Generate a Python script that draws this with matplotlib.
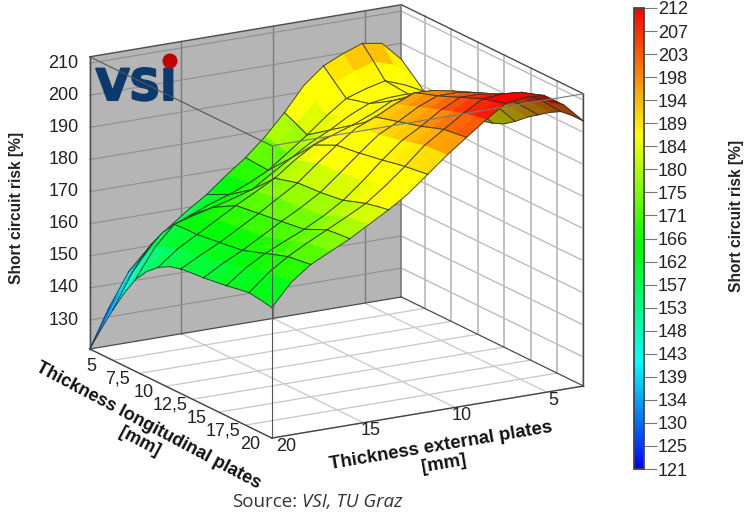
import numpy as np
import matplotlib
matplotlib.use("Agg")
import matplotlib.pyplot as plt
import matplotlib.patheffects as pe
from matplotlib.colors import LinearSegmentedColormap, Normalize
from matplotlib.cm import ScalarMappable
from matplotlib.patches import Ellipse
from mpl_toolkits.mplot3d import proj3d

plt.rcParams['font.family'] = ['Liberation Sans', 'DejaVu Sans']

# ---------- data ----------
x_nodes = [20, 18.94, 17.88, 16.81, 15.75, 14.69, 13.63, 12.56, 11.5, 10.44, 9.38, 8.31, 7.25, 6.19, 5.13, 4.06, 3]
y_nodes = [20, 18.93, 17.85, 16.78, 15.7, 14.63, 13.55, 12.48, 11.4, 10.33, 9.25, 8.18, 7.1, 6.03, 4.95, 3.88, 2.8]
z_rows = [
    [161.6,168.5,173,176,179,182.5,186,190,195,200,204.5,209,213,214,213.5,209.5,203.5],
    [162.3,168.2,172.5,175.7,178.7,181.9,185.3,189.5,194.5,199.8,204,208.3,212,212.8,212.2,208.5,203.5],
    [162.8,168,172,175.3,178.3,181.3,184.5,189,194,199.5,203.5,207.5,211,211.5,211,207.5,203],
    [162.2,167,170.8,173.8,176.7,179.8,183.3,188,193.3,198.5,202.3,206.3,209.5,209.8,209,205.3,201],
    [161.5,166,169.5,172.3,175,178.2,182,187,192.5,197.5,201,205,208,208,207,203,198.5],
    [161,165,168.3,171.4,174.5,177.8,181.5,186.5,191.9,196.8,200,203.8,206.5,206.5,205.5,201,196],
    [160.5,164,167,170.5,174,177.3,181,186,191.2,196,199,202.5,205,205,204,199,193],
    [160.2,163.5,166.5,170,173.5,177,180.8,185.8,190.7,195.3,198,201.3,203.8,203.6,202.5,197.3,190.5],
    [159.8,163,166,169.5,173,176.8,180.5,185.5,190.2,194.5,197,200,202.5,202.2,201,195.5,189],
    [158.8,162.3,165.5,169,172.5,176,179.5,184.3,188.5,191.3,193.5,196.3,199,199.1,198.3,193.5,188],
    [156.8,161.5,165,168.5,172,175.2,178.5,183,186.8,189,191,193.5,196.5,197,196.6,192,186.5],
    [153.8,160.3,165,167.5,170,172.5,175,179.3,183,186,188.5,191.5,194.3,195,194.9,191,186],
    [149.5,158.5,164.7,166.5,168,169.7,171.5,175.5,179.3,183,186,189.5,192.2,193,193.2,190,186],
    [143.5,153.5,160.5,163,165,167,169,172.3,175.7,179.8,183.5,187.8,191.3,192.7,193.5,190.8,187],
    [136.5,147,155,159,162,164.5,166.5,169,172,176.5,181,186,190.3,192.3,193.8,191.5,188.5],
    [129,140,149,154,158.3,161.8,164.8,168.5,172.2,177.2,182.8,188.5,193.6,196,198,196,191.8],
    [121,133,143,149,154.5,159,163,168,172.5,178,184.5,192,197,199.8,202,201,195],
]
x_ticks = [20, 15, 10, 5]
y_ticks = [5, 7.5, 10, 12.5, 15, 17.5, 20]
y_tick_labels = ['5', '7,5', '10', '12,5', '15', '17,5', '20']
z_ticks = [130, 140, 150, 160, 170, 180, 190, 200, 210]
bar_labels = [121, 125, 130, 134, 139, 143, 148, 153, 157, 162, 166, 171, 175, 180, 184, 189, 194, 198, 203, 207, 212]

x_label = "Thickness external plates\n[mm]"
y_label = "Thickness longitudinal plates\n[mm]"
z_label = "Short circuit risk [%]"

X_MIN, X_MAX = 3.0, 20.0
Y_MIN, Y_MAX = 2.8, 20.0
Z_MIN, Z_MAX = 121.0, 212.0

W, H = 747, 513
fig = plt.figure(figsize=(W / 100, H / 100), dpi=100, facecolor='white')


def fx(px):
    return px / W


def fy(py):
    return 1 - py / H


S = 600
ax = fig.add_axes([28.5 / W, -16.5 / H, S / W, S / H], projection='3d',
                  proj_type='ortho', computed_zorder=False)
ax.view_init(elev=16.6, azim=59.7)
ax.set_box_aspect((361, 361, 305), zoom=0.962)
ax.set_xlim(X_MIN, X_MAX)
ax.set_ylim(Y_MIN, Y_MAX)
ax.set_zlim(Z_MIN, Z_MAX)
ax.set_axis_off()
ax.patch.set_alpha(0)
ax.grid(False)

# colour scales
bar_cmap = LinearSegmentedColormap.from_list(
    'bar', [(0, '#0000ff'), (0.23, '#00ffff'), (0.484, '#00ff00'), (0.725, '#ffff00'), (1, '#ff0000')])
surf_cmap = LinearSegmentedColormap.from_list(
    'surf', [(0, '#0000ff'), (0.23, '#00ffff'), (0.51, '#00ff00'), (0.725, '#ffff00'),
             (0.81, '#ffff00'), (0.91, '#ff8c00'), (1, '#ff0000')])
norm = Normalize(Z_MIN, Z_MAX)

# grey wall at y = Y_MIN
wx, wz = np.meshgrid([X_MIN, X_MAX], [Z_MIN, Z_MAX])
ax.plot_surface(wx, np.full_like(wx, Y_MIN), wz, color='#b5b5b5', shade=False, linewidth=0, zorder=1)

# wall and floor grids
for xv in x_ticks:
    ax.plot([xv, xv], [Y_MIN, Y_MIN], [Z_MIN, Z_MAX], color='#7c7c7c', lw=1.0, zorder=2)
    ax.plot([xv, xv], [Y_MIN, Y_MAX], [Z_MIN, Z_MIN], color='#c8c8c8', lw=0.9, zorder=2)
for zv in z_ticks:
    ax.plot([X_MAX, X_MIN], [Y_MIN, Y_MIN], [zv, zv], color='#8e8e8e', lw=0.8, zorder=2)
    ax.plot([X_MIN, X_MIN], [Y_MIN, Y_MAX], [zv, zv], color='#bdbdbd', lw=1.0, zorder=2)
for yv in y_ticks:
    ax.plot([X_MIN, X_MIN], [yv, yv], [Z_MIN, Z_MAX], color='#bdbdbd', lw=1.3, zorder=2)
    ax.plot([X_MIN, X_MAX], [yv, yv], [Z_MIN, Z_MIN], color='#c8c8c8', lw=0.9, zorder=2)

# box edges behind the surface
edge = '#4a4a4a'
ax.plot([X_MAX, X_MIN], [Y_MIN, Y_MIN], [Z_MAX, Z_MAX], color=edge, lw=1.0, zorder=3)
ax.plot([X_MIN, X_MIN], [Y_MIN, Y_MAX], [Z_MAX, Z_MAX], color=edge, lw=1.0, zorder=3)
ax.plot([X_MIN, X_MIN], [Y_MIN, Y_MIN], [Z_MIN, Z_MAX], color='#777777', lw=1.1, zorder=3)
ax.plot([X_MAX, X_MIN], [Y_MIN, Y_MIN], [Z_MIN, Z_MIN], color=edge, lw=0.9, zorder=3)
ax.plot([X_MIN, X_MIN], [Y_MIN, Y_MAX], [Z_MIN, Z_MIN], color=edge, lw=0.9, zorder=3)
ax.plot([X_MAX, X_MAX], [Y_MIN, Y_MIN], [Z_MIN, Z_MAX], color=edge, lw=1.0, zorder=3)
ax.plot([X_MIN, X_MIN], [Y_MAX, Y_MAX], [Z_MIN, Z_MAX], color=edge, lw=1.0, zorder=3)

# logo
ax.text2D(fx(96), fy(100), "VSI", transform=fig.transFigure, family='DejaVu Sans', fontweight='bold',
          fontsize=31, color='#0c3a6e', ha='left', va='baseline', zorder=4,
          path_effects=[pe.withStroke(linewidth=1.5, foreground='#0c3a6e')])
fig.add_artist(Ellipse((fx(170), fy(61)), 15 / W, 15 / H, transform=fig.transFigure,
                       facecolor='#c00000', edgecolor='none'))

# surface, painted cell by cell from far to near
XG, YG = np.meshgrid(np.array(x_nodes), np.array(y_nodes))
ZG = np.array(z_rows)
M = ax.get_proj()
sx, sy, _ = proj3d.proj_transform(XG.ravel(), YG.ravel(), ZG.ravel(), M)
sx = np.reshape(sx, XG.shape)
sy = np.reshape(sy, XG.shape)
rgba = np.zeros((16, 16, 4))
for i in range(16):
    for j in range(16):
        zm = ZG[i:i + 2, j:j + 2].mean()
        c = np.array(surf_cmap(norm(zm)))
        ax1, ay1 = sx[i, j + 1] - sx[i, j], sy[i, j + 1] - sy[i, j]
        bx1, by1 = sx[i + 1, j] - sx[i, j], sy[i + 1, j] - sy[i, j]
        if ax1 * by1 - ay1 * bx1 < 0:
            c[:3] *= 0.62
        rgba[i, j] = c

order = 10
for i in range(14, -1, -2):
    for j in range(14, -1, -2):
        xc, yc, zc = XG[i:i + 3, j:j + 3], YG[i:i + 3, j:j + 3], ZG[i:i + 3, j:j + 3]
        ax.plot_surface(xc, yc, zc, facecolors=rgba[i:i + 2, j:j + 2], shade=False,
                        rstride=1, cstride=1, linewidth=0.4, zorder=order)
        order += 1
        for r in (0, 2):
            ax.plot(xc[r, :], yc[r, :], zc[r, :], color='#2c2c2c', lw=0.7, alpha=0.85, zorder=order)
        for c_ in (0, 2):
            ax.plot(xc[:, c_], yc[:, c_], zc[:, c_], color='#2c2c2c', lw=0.7, alpha=0.85, zorder=order)
        order += 1

# box edges in front of the surface
ax.plot([X_MAX, X_MAX], [Y_MAX, Y_MAX], [Z_MIN, Z_MAX], color='#555555', lw=0.8, zorder=600)
ax.plot([X_MAX, X_MAX], [Y_MIN, Y_MAX], [Z_MAX, Z_MAX], color='#555555', lw=0.8, zorder=600)
ax.plot([X_MAX, X_MIN], [Y_MAX, Y_MAX], [Z_MAX, Z_MAX], color='#777777', lw=0.8, zorder=600)
ax.plot([X_MAX, X_MAX], [Y_MIN, Y_MAX], [Z_MIN, Z_MIN], color='#444444', lw=1.0, zorder=600)
ax.plot([X_MAX, X_MIN], [Y_MAX, Y_MAX], [Z_MIN, Z_MIN], color='#444444', lw=1.0, zorder=600)


def tick_label(x, y, z, text, dx, dy, ha='center'):
    px, py, _ = proj3d.proj_transform(x, y, z, M)
    ax.annotate(text, (px, py), xytext=(dx * 0.72, dy * 0.72), textcoords='offset points',
                ha=ha, va='center', fontsize=13, color='#222222', annotation_clip=False, zorder=700)


for zv in z_ticks:
    tick_label(X_MAX, Y_MIN, zv, str(zv), -11, 0, ha='right')
for yv, lab in zip(y_ticks, y_tick_labels):
    tick_label(X_MAX, yv, Z_MIN, lab, -22, -6)
for xv in x_ticks:
    tick_label(xv, Y_MAX, Z_MIN, str(xv), 14 if xv == 20 else 7, -8)

# axis titles
fig.text(fx(144), fy(434), y_label, rotation=-28, fontsize=13, fontweight='bold', color='#111111',
         ha='center', va='center', rotation_mode='anchor', linespacing=1.1)
fig.text(fx(442), fy(455), x_label, rotation=9.5, fontsize=13.4, fontweight='bold', color='#111111',
         ha='center', va='center', rotation_mode='anchor', linespacing=1.1)
fig.text(fx(17), fy(208), z_label, rotation=90, fontsize=11.2, fontweight='bold', color='#222222',
         ha='center', va='center')
fig.text(fx(737), fy(216), z_label, rotation=90, fontsize=11.2, fontweight='bold', color='#222222',
         ha='center', va='center')

# source
fig.text(fx(232), fy(502), "Source:", family='Open Sans', fontsize=13.5, color='#333333', ha='left', va='center')
fig.text(fx(302), fy(502), "VSI, TU Graz", family='Open Sans', style='italic', fontsize=13.5, color='#333333',
         ha='left', va='center')

# colour bar
cax = fig.add_axes([fx(634), fy(469), 10 / W, 461 / H])
cb = fig.colorbar(ScalarMappable(norm=norm, cmap=bar_cmap), cax=cax)
cb.set_ticks(np.linspace(Z_MIN, Z_MAX, len(bar_labels)), labels=[str(v) for v in bar_labels])
cb.ax.tick_params(length=9, width=0.8, color='#777777', labelsize=13, labelcolor='#222222', pad=1)
cb.outline.set_edgecolor('#444444')
cb.outline.set_linewidth(1.3)

fig.savefig('out.png', dpi=100)
